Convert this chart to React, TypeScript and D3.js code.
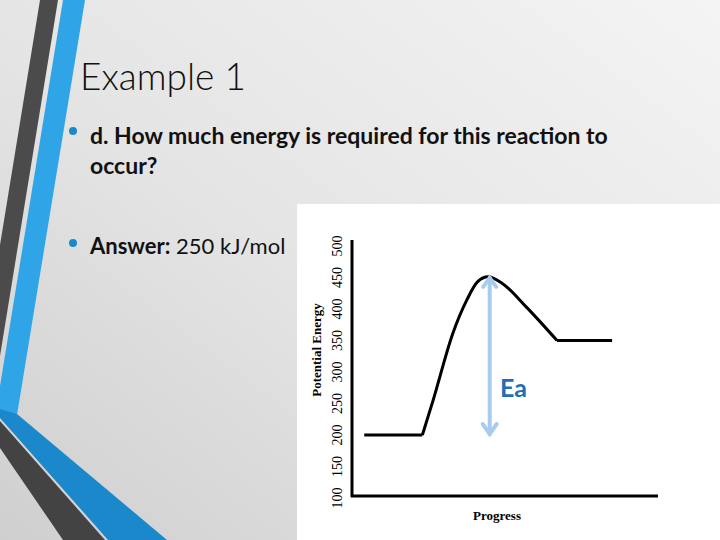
import React from "react";
import * as d3 from "d3";

// energy profile (progress 0-100, energy in kJ/mol)
const reactants = [
  { p: 4, e: 200 },
  { p: 23, e: 200 },
];
const hump = [
  { p: 23, e: 200 },
  { p: 26.5, e: 255 },
  { p: 33, e: 362 },
  { p: 37.5, e: 414 },
  { p: 41, e: 443 },
  { p: 44.5, e: 451 },
  { p: 49, e: 441 },
  { p: 57, e: 403 },
  { p: 67, e: 350 },
];
const products = [
  { p: 67, e: 350 },
  { p: 85, e: 350 },
];
const yTicks = [100, 150, 200, 250, 300, 350, 400, 450, 500];
const eaArrow = { p: 45, from: 200, to: 451 };

const W = 720;
const H = 540;
const font = "Lato, 'Open Sans', sans-serif";
const serif = "'Liberation Serif', 'DejaVu Serif', serif";

export default function App() {
  const x = d3.scaleLinear().domain([0, 100]).range([352, 658]);
  const y = d3.scaleLinear().domain([100, 500]).range([498, 246]);

  const flat = d3
    .line<{ p: number; e: number }>()
    .x((d) => x(d.p))
    .y((d) => y(d.e));
  const smooth = d3
    .line<{ p: number; e: number }>()
    .x((d) => x(d.p))
    .y((d) => y(d.e))
    .curve(d3.curveMonotoneX);

  const ax = x(eaArrow.p);
  const aTop = y(eaArrow.to);
  const aBot = y(eaArrow.from);

  return (
    <svg
      width={W}
      height={H}
      style={{ position: "absolute", left: 0, top: 0, display: "block" }}
    >
      <defs>
        <linearGradient id="bg" x1="1" y1="0" x2="0" y2="1">
          <stop offset="0" stopColor="#f4f4f4" />
          <stop offset="0.55" stopColor="#e4e4e4" />
          <stop offset="1" stopColor="#cfcfcf" />
        </linearGradient>
      </defs>
      <rect width={W} height={H} fill="url(#bg)" />

      {/* decorative stripes on the left */}
      <polygon points="40,0 58,0 0,356 0,245" fill="#4b4b4b" />
      <polygon points="63,0 85,0 17,415 0,411 0,386" fill="#2fa5e8" />
      <polygon points="0,409 17,414 167,540 108,540 0,418" fill="#1b88cc" />
      <polygon points="0,421 105,540 63,540 0,448" fill="#434343" />

      {/* slide text */}
      <text x={80} y={90} fontFamily={font} fontWeight={300} fontSize={37} fill="#111">
        Example 1
      </text>
      <circle cx={73} cy={131} r={4} fill="#1b88cc" />
      <text x={90} y={144} fontFamily={font} fontWeight={700} fontSize={23} fill="#111">
        d. How much energy is required for this reaction to
      </text>
      <text x={90} y={174} fontFamily={font} fontWeight={700} fontSize={23} fill="#111">
        occur?
      </text>
      <circle cx={73} cy={243} r={4} fill="#1b88cc" />
      <text x={90} y={254} fontFamily={font} fontSize={22} fill="#111">
        <tspan fontWeight={700}>Answer:</tspan> 250 kJ/mol
      </text>

      {/* chart image */}
      <rect x={297} y={204} width={W - 297} height={H - 204} fill="#fff" />

      {/* axes */}
      <line x1={352} x2={352} y1={240} y2={497} stroke="#000" strokeWidth={3} />
      <line x1={351} x2={658} y1={496} y2={496} stroke="#000" strokeWidth={3} />

      {yTicks.map((t) => (
        <text
          key={t}
          transform={`translate(342,${y(t)}) rotate(-90)`}
          textAnchor="middle"
          fontFamily={serif}
          fontSize={14}
          fill="#000"
        >
          {t}
        </text>
      ))}
      <text
        transform="translate(321,350) rotate(-90)"
        textAnchor="middle"
        fontFamily={serif}
        fontWeight={700}
        fontSize={13}
        fill="#000"
      >
        Potential Energy
      </text>
      <text
        x={497}
        y={520}
        textAnchor="middle"
        fontFamily={serif}
        fontWeight={700}
        fontSize={13}
        fill="#000"
      >
        Progress
      </text>

      {/* energy curve */}
      <g fill="none" stroke="#000" strokeWidth={3} strokeLinejoin="round">
        <path d={flat(reactants) || ""} />
        <path d={smooth(hump) || ""} />
        <path d={flat(products) || ""} />
      </g>

      {/* activation energy arrow */}
      <g stroke="#a9cbec" strokeWidth={4} strokeLinecap="round" fill="none">
        <line x1={ax} x2={ax} y1={aTop + 1} y2={aBot - 1} />
        <path d={`M${ax - 6.5},${aTop + 10} L${ax},${aTop + 1} L${ax + 6.5},${aTop + 10}`} />
        <path d={`M${ax - 7},${aBot - 11} L${ax},${aBot - 1} L${ax + 7},${aBot - 11}`} />
      </g>
      <text x={500} y={397} fontFamily={font} fontWeight={700} fontSize={25} fill="#1e6fb3">
        Ea
      </text>
    </svg>
  );
}
